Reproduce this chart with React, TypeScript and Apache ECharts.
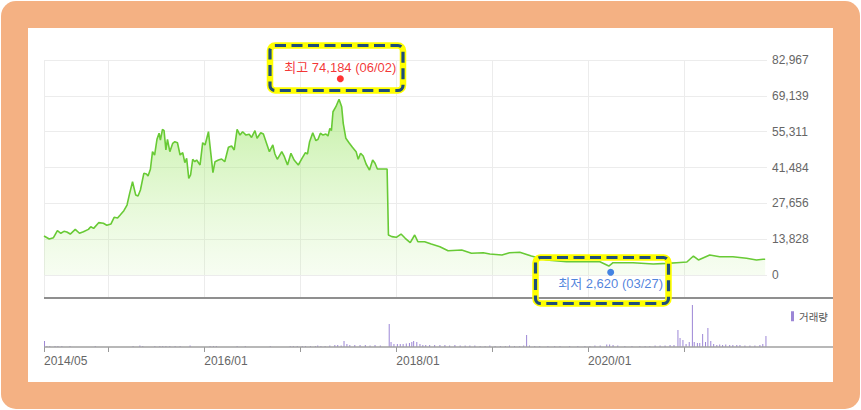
import React, { useEffect, useRef } from 'react';
import * as echarts from 'echarts';

const priceDates = [
  '2014-05-01','2014-05-21','2014-06-06','2014-06-21','2014-07-04','2014-07-16','2014-07-27','2014-08-09','2014-08-28','2014-09-13',
  '2014-09-28','2014-10-17','2014-10-26','2014-11-06','2014-11-25','2014-12-13','2014-12-26','2015-01-11','2015-01-23','2015-02-05',
  '2015-02-15','2015-03-01','2015-03-13','2015-03-23','2015-04-03','2015-04-15','2015-04-24','2015-05-03','2015-05-16','2015-05-26',
  '2015-06-01','2015-06-10','2015-06-18','2015-06-26','2015-07-05','2015-07-13','2015-07-18','2015-07-26','2015-08-01','2015-08-08',
  '2015-08-14','2015-08-23','2015-09-03','2015-09-11','2015-09-21','2015-10-01','2015-10-11','2015-10-19','2015-10-26','2015-11-03',
  '2015-11-10','2015-11-18','2015-11-26','2015-12-03','2015-12-16','2015-12-26','2016-01-04','2016-01-17','2016-01-26','2016-02-03',
  '2016-02-11','2016-02-24','2016-03-07','2016-03-19','2016-04-02','2016-04-14','2016-04-24','2016-05-05','2016-05-16','2016-05-26',
  '2016-06-08','2016-06-20','2016-06-29','2016-07-12','2016-07-20','2016-08-03','2016-08-13','2016-08-23','2016-09-05','2016-09-18',
  '2016-09-26','2016-10-05','2016-10-22','2016-11-01','2016-11-13','2016-11-26','2016-12-08','2016-12-24','2017-01-07','2017-01-20',
  '2017-01-28','2017-02-05','2017-02-17','2017-03-01','2017-03-09','2017-03-18','2017-03-28','2017-04-08','2017-04-16','2017-04-23',
  '2017-04-29','2017-05-05','2017-05-16','2017-05-28','2017-06-07','2017-06-13','2017-06-23','2017-07-05','2017-07-18','2017-08-01',
  '2017-08-09','2017-08-18','2017-08-28','2017-09-08','2017-09-21','2017-10-03','2017-10-12','2017-10-21','2017-11-21','2017-11-27',
  '2017-12-02','2017-12-15','2018-01-01','2018-01-19','2018-02-04','2018-02-23','2018-03-12','2018-03-24','2018-04-19','2018-05-14',
  '2018-06-16','2018-07-17','2018-09-07','2018-10-14','2018-11-28','2018-12-23','2019-02-07','2019-03-08','2019-04-16','2019-05-30',
  '2019-07-26','2019-10-11','2019-12-26','2020-02-15','2020-03-20','2020-04-05','2020-06-20','2020-09-05','2020-10-26','2020-12-03',
  '2021-01-11','2021-02-05','2021-02-24','2021-04-08','2021-05-16','2021-07-05','2021-08-26','2021-10-03','2021-10-28','2021-11-05'
];
const priceValues = [
  15050,13900,14400,17100,16100,16860,16600,15800,17600,16100,
  16700,17600,18640,18000,20200,19950,19200,19700,22260,22000,
  23150,24800,27000,31500,36000,30900,30500,32800,39250,39000,
  38200,40800,47600,46300,52360,54700,52100,56200,55700,48240,
  52360,47600,50800,51450,51050,46300,47200,43340,45000,37300,
  38600,44650,43720,44380,42450,51050,50170,55300,46960,39480,
  43720,44380,44760,43720,49280,49800,48240,56200,54000,55300,
  54000,54300,53100,55700,52750,54900,54400,51450,47600,50170,
  46700,44650,47600,45650,42450,46960,44380,42450,45000,47200,
  46700,51450,54900,51830,52360,54700,54000,54400,53640,56600,
  55700,63000,64950,67800,64950,58540,52750,51050,49280,47600,
  44650,46960,45900,42830,40500,44380,43100,40900,40900,40900,
  15440,14800,14540,15800,14160,12460,15440,12850,12850,11960,
  10920,9380,9650,8370,8600,8100,7720,8600,8760,7330,
  5790,5130,5130,5130,3470,4750,4750,4245,4500,4750,
  5017,7330,5790,7720,7060,7060,6440,5790,6050,6100
];

const volumeDates = [
  '2014-05-03','2014-05-12','2014-05-23','2014-06-12','2014-06-23','2014-07-08','2014-08-08','2014-11-12','2015-04-05','2015-05-01',
  '2015-05-12','2015-06-27','2015-07-16','2015-07-27','2015-08-08','2015-08-23','2015-09-12','2015-10-01','2015-11-08','2016-01-23',
  '2016-02-05','2016-02-16','2016-05-05','2016-06-05','2016-09-08','2016-11-23','2016-12-05','2016-12-20','2017-01-08','2017-01-20',
  '2017-02-08','2017-02-27','2017-03-08','2017-03-20','2017-04-05','2017-04-23','2017-05-12','2017-05-23','2017-06-05','2017-06-16',
  '2017-06-27','2017-07-08','2017-07-27','2017-08-16','2017-09-05','2017-09-23','2017-10-12','2017-11-01','2017-12-05','2017-12-12',
  '2017-12-23','2018-01-05','2018-01-16','2018-01-27','2018-02-08','2018-02-20','2018-03-01','2018-03-08','2018-03-20','2018-04-01',
  '2018-04-12','2018-04-23','2018-05-08','2018-05-27','2018-06-16','2018-07-05','2018-07-23','2018-08-12','2018-09-01','2018-09-20',
  '2018-10-08','2018-10-27','2018-11-16','2018-12-05','2018-12-23','2019-01-12','2019-02-01','2019-02-20','2019-03-08','2019-03-27',
  '2019-04-16','2019-05-01','2019-05-12','2019-05-23','2019-06-12','2019-07-01','2019-08-01','2019-08-27','2019-09-16','2019-10-23',
  '2019-11-23','2019-12-20','2020-01-08','2020-01-27','2020-02-16','2020-03-12','2020-03-23','2020-04-05','2020-04-23','2020-05-20',
  '2020-06-16','2020-07-16','2020-08-05','2020-08-23','2020-09-12','2020-10-01','2020-10-20','2020-11-08','2020-11-23','2020-12-08',
  '2020-12-16','2020-12-27','2021-01-08','2021-01-20','2021-02-01','2021-02-08','2021-02-20','2021-03-01','2021-03-12','2021-03-23',
  '2021-04-01','2021-04-12','2021-04-23','2021-05-05','2021-05-16','2021-05-27','2021-06-08','2021-06-23','2021-07-05','2021-07-20',
  '2021-08-01','2021-08-20','2021-09-08','2021-09-27','2021-10-16','2021-10-27','2021-11-08'
];
const volumeValues = [
  60000,10000,10000,10000,10000,10000,10000,10000,10000,15000,
  10000,10000,10000,10000,10000,10000,10000,10000,15000,10000,
  10000,10000,10000,10000,10000,10000,10000,10000,10000,10000,
  10000,10000,15000,10000,10000,15000,20000,20000,15000,60000,
  30000,20000,20000,20000,20000,15000,20000,15000,230000,50000,
  30000,30000,30000,30000,35000,40000,50000,60000,50000,30000,
  20000,20000,20000,20000,20000,20000,15000,20000,15000,15000,
  15000,15000,10000,10000,15000,10000,10000,10000,15000,10000,
  10000,15000,120000,15000,10000,10000,10000,10000,10000,10000,
  10000,10000,10000,15000,15000,25000,25000,20000,15000,10000,
  10000,10000,10000,10000,15000,15000,15000,20000,20000,170000,
  90000,70000,30000,50000,420000,50000,40000,40000,130000,50000,
  190000,60000,30000,20000,25000,20000,25000,20000,20000,20000,
  20000,15000,15000,15000,20000,30000,110000
];

const xStart = '2014-05-01';
const xEnd = '2021-11-12';
const gridTickDates = ['2014-05-01','2015-01-01','2016-01-01','2017-01-01','2018-01-01','2019-01-01','2020-01-01','2021-01-01'];
const xLabelDates = ['2014-05-01','2016-01-01','2018-01-01','2020-01-01'];
const priceAxisMax = 82967;
const priceAxisSteps = 6;
const highPoint = { date: '2017-06-02', value: 74184, label: '최고 74,184 (06/02)' };
const lowPoint = { date: '2020-03-27', value: 2620, label: '최저 2,620 (03/27)' };
const volumeAxisMax = 490000;

const FONT = "'Liberation Sans', 'Noto Sans CJK KR', sans-serif";

function ts(s: string) {
  const [y, m, d] = s.split('-').map(Number);
  return new Date(y, m - 1, d).getTime();
}

function fmtMonth(v: number) {
  const d = new Date(v);
  return d.getFullYear() + '/' + String(d.getMonth() + 1).padStart(2, '0');
}

export default function App() {
  const ref = useRef<HTMLDivElement>(null);
  useEffect(() => {
    if (!ref.current) return;
    const chart = echarts.init(ref.current, null, { renderer: 'svg' });
    const priceData = priceDates.map((d, i) => [ts(d), priceValues[i]]);
    const volData = volumeDates.map((d, i) => [ts(d), volumeValues[i]]);
    const tickVals = gridTickDates.map(ts);
    const labelVals = xLabelDates.map(ts);
    const xMin = ts(xStart);
    const xMax = ts(xEnd);
    const boxStyle = (shape: any) => [
      { type: 'rect', z: 100, shape, style: { fill: 'none', stroke: '#ffff00', lineWidth: 6.5 } },
      { type: 'rect', z: 101, shape, style: { fill: 'none', stroke: '#1f4e79', lineWidth: 3.2, lineDash: [11, 5.5] } },
    ];
    chart.setOption({
      animation: false,
      grid: [
        { left: 44, top: 60, width: 723, height: 215 },
        { left: 44, top: 298, width: 723, height: 49 },
        { left: 44, top: 60, width: 723, height: 237 },
      ],
      xAxis: [
        { type: 'value', gridIndex: 0, min: xMin, max: xMax, show: false },
        {
          type: 'value', gridIndex: 1, min: xMin, max: xMax,
          axisLine: { show: false },
          axisTick: { show: true, length: 5, lineStyle: { color: '#999' }, customValues: tickVals },
          axisLabel: { customValues: labelVals, formatter: (v: number) => fmtMonth(v), align: 'left', margin: 8, color: '#666', fontSize: 12, fontFamily: FONT },
          splitLine: { show: false },
        },
        {
          type: 'value', gridIndex: 2, min: xMin, max: xMax,
          axisLine: { show: false },
          axisTick: { show: false, customValues: tickVals },
          axisLabel: { show: false },
          splitLine: { show: true, lineStyle: { color: '#ececec', width: 1 } },
        },
      ],
      yAxis: [
        {
          type: 'value', gridIndex: 0, position: 'right', min: 0, max: priceAxisMax, interval: priceAxisMax / priceAxisSteps,
          axisLine: { show: false }, axisTick: { show: false },
          splitLine: { lineStyle: { color: '#ececec', width: 1 } },
          axisLabel: { color: '#666', fontSize: 12, fontFamily: FONT, margin: 5, formatter: (v: number) => Math.round(v).toLocaleString('en-US') },
        },
        { type: 'value', gridIndex: 1, min: 0, max: volumeAxisMax, show: false },
        { type: 'value', gridIndex: 2, min: 0, max: 1, show: false },
      ],
      legend: {
        data: ['거래량'], left: 786, top: 306, icon: 'rect', itemWidth: 3, itemHeight: 10,
        textStyle: { color: '#555', fontSize: 10.5, fontFamily: "'Noto Sans CJK KR', sans-serif" },
        selectedMode: false,
      },
      series: [
        {
          type: 'line', name: 'price', xAxisIndex: 0, yAxisIndex: 0, data: priceData, symbol: 'none', z: 3,
          lineStyle: { color: '#68ca35', width: 1.6 },
          areaStyle: {
            color: new echarts.graphic.LinearGradient(0, 0, 0, 1, [
              { offset: 0, color: 'rgba(150,228,95,0.8)' },
              { offset: 1, color: 'rgba(190,240,150,0.18)' },
            ]),
          },
        },
        {
          type: 'scatter', name: 'high', xAxisIndex: 0, yAxisIndex: 0, z: 5,
          data: [[ts(highPoint.date), highPoint.value]], symbolSize: 7, symbolOffset: [0, -4],
          itemStyle: { color: '#ff0000' },
          label: { show: true, position: 'top', distance: 1, formatter: highPoint.label, color: '#f00000', fontSize: 13, fontFamily: FONT },
        },
        {
          type: 'scatter', name: 'low', xAxisIndex: 0, yAxisIndex: 0, z: 5,
          data: [[ts(lowPoint.date), lowPoint.value]], symbolSize: 7, symbolOffset: [0, 4],
          itemStyle: { color: '#1565e0' },
          label: { show: true, position: 'bottom', distance: 1.5, formatter: lowPoint.label, color: '#1f64d4', fontSize: 13, fontFamily: FONT },
        },
        {
          type: 'bar', name: '거래량', xAxisIndex: 1, yAxisIndex: 1, data: volData, barWidth: 1,
          itemStyle: { color: '#9c86d6' },
        },
      ],
      graphic: [
        { type: 'line', z: 50, shape: { x1: 44, y1: 298, x2: 833, y2: 298 }, style: { stroke: '#8f8f8f', lineWidth: 2 } },
        { type: 'line', z: 50, shape: { x1: 44, y1: 347, x2: 833, y2: 347 }, style: { stroke: '#a0a0a0', lineWidth: 1.5 } },
        ...boxStyle({ x: 270, y: 45.5, width: 133, height: 45, r: 5 }),
        ...boxStyle({ x: 535.5, y: 257.5, width: 133, height: 46, r: 5 }),
      ],
    });
    return () => chart.dispose();
  }, []);
  return (
    <div style={{ position: 'fixed', left: 0, top: 0, width: 861, height: 410, background: '#ffffff' }}>
      <div style={{ position: 'absolute', left: 1, top: 1, width: 859, height: 408, background: '#f4b183', borderRadius: 15 }} />
      <div style={{ position: 'absolute', left: 28, top: 28, width: 805, height: 354, background: '#ffffff' }} />
      <div ref={ref} style={{ position: 'absolute', left: 0, top: 0, width: 861, height: 410 }} />
    </div>
  );
}
